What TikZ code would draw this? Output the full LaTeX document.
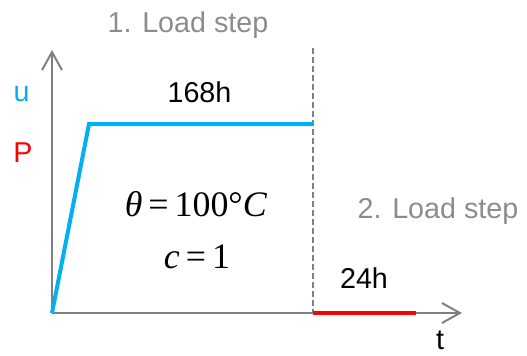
\documentclass[tikz,border=0pt]{standalone}
\usepackage{fontspec}
\setmainfont{Liberation Sans}
\newfontfamily\timesfont{Liberation Serif}
\usetikzlibrary{arrows.meta}
\definecolor{ublue}{RGB}{0,176,240}
\definecolor{axgray}{RGB}{128,128,128}
\definecolor{stepgray}{RGB}{140,140,140}

\begin{document}
\begin{tikzpicture}[x=1bp, y=-1bp,
    axis/.style={draw=axgray, line width=2bp,
                 -{Straight Barb[length=18bp, width=20bp, line width=2bp]}},
    stepline/.style={draw=axgray, line width=1.3bp, dash pattern=on 5.5bp off 3.5bp},
    curve/.style={line width=4bp, line join=miter},
    lbl/.style={font=\fontsize{28.8}{34}\selectfont, inner sep=0pt, anchor=base},
    steplbl/.style={lbl, text=stepgray},
    mathlbl/.style={font=\fontsize{36}{40}\selectfont\timesfont, inner sep=0pt, anchor=base}
]
\useasboundingbox (0,0) rectangle (527,355);

% axes
\coordinate (O) at (52,313);
\coordinate (ytop) at (52,50);
\coordinate (xend) at (462,313);
\draw[axis] (O) -- (ytop);
\draw[axis] (O) -- (xend);

% load step boundary
\coordinate (dtop) at (313,48);
\coordinate (dbot) at (313,313);
\draw[stepline] (dtop) -- (dbot);

% displacement u and load P
\coordinate (knee) at (89,124);
\coordinate (plat) at (313,124);
\coordinate (redend) at (416,313);
\draw[curve, ublue] (O) -- (knee) -- (plat);
\draw[curve, red] (dbot) -- (redend);

% labels
\node[lbl, text=ublue] (ulab) at (21.5,101) {u};
\node[lbl, text=red] (plab) at (23,162) {P};
\node[lbl] (tlab) at (440,349) {t};
\node[steplbl] (step1) at (188,32) {1. Load step};
\node[steplbl] (step2) at (438,218) {2. Load step};
\node[lbl] (dur1) at (199.5,102) {168h};
\node[lbl] (dur2) at (364,288) {24h};
\node[mathlbl] (temp) at (196,216) {\textit{θ}\,=\,100°\textit{C}};
\node[mathlbl] (cval) at (197,268) {\textit{c}\,=\,1};

\end{tikzpicture}
\end{document}
